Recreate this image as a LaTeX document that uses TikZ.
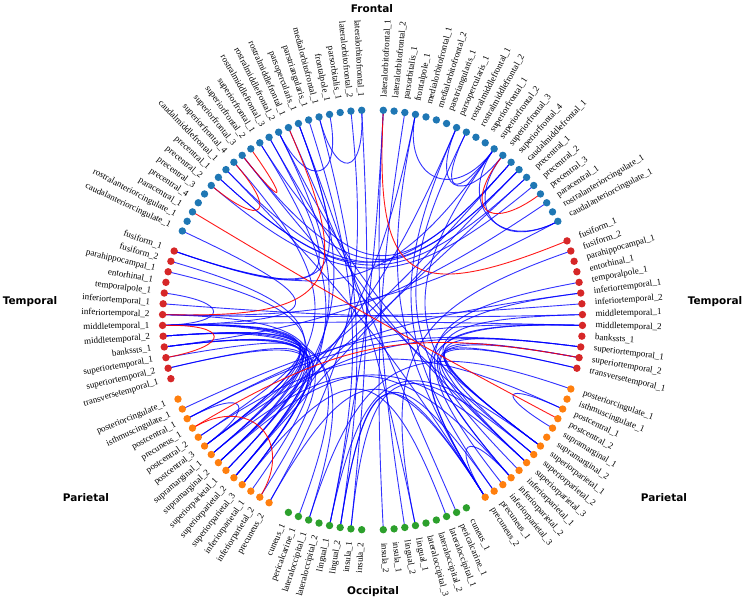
\documentclass[tikz,border=0pt]{standalone}
\usepackage{fontspec}
\setmainfont{Liberation Serif}
\newfontfamily\lobefont{DejaVu Sans}
\usetikzlibrary{calc,backgrounds}
\definecolor{cF}{HTML}{1F77B4}
\definecolor{cT}{HTML}{D62728}
\definecolor{cP}{HTML}{FF7F0E}
\definecolor{cO}{HTML}{2CA02C}
\definecolor{eb}{HTML}{0000FF}
\definecolor{er}{HTML}{FF0000}
\tikzset{
  dot/.style={circle, inner sep=0pt, minimum size=7.4pt},
  rlab/.style={anchor=west, inner sep=0pt, font=\fontsize{9}{9}\selectfont},
  llab/.style={anchor=east, inner sep=0pt, font=\fontsize{9}{9}\selectfont},
  lobe/.style={font=\lobefont\bfseries\fontsize{10.5}{12}\selectfont},
  eblue/.style={draw=eb, line width=0.9pt, opacity=0.8},
  ered/.style={draw=er, line width=0.9pt, opacity=0.9},
}
\newcommand\cnx[4]{\draw[#1] (#3.center) .. controls ($(C)!#2!(#3.center)$) and ($(C)!#2!(#4.center)$) .. (#4.center);}
\newcommand\ew[2]{\cnx{eblue}{0.68}{#1}{#2}}
\newcommand\ex[2]{\cnx{eblue}{0.18}{#1}{#2}}
\newcommand\rw[2]{\cnx{ered}{0.68}{#1}{#2}}
\newcommand\rx[2]{\cnx{ered}{0.18}{#1}{#2}}
\def\sstep{2.95082}
\newcommand\leftgrp[4]{%
  \foreach \lab [count=\i from #1] in {#4} {
    \pgfmathsetmacro\a{90+\sstep*(1+\i+#2)}
    \node[dot, fill=#3] (L\i) at ($(C)+(\a:210)$) {};
    \node[llab, rotate=\a-180] (tL\i) at ($(C)+(\a:223)$) {\lab};
  }}
\newcommand\rightgrp[4]{%
  \foreach \lab [count=\i from #1] in {#4} {
    \pgfmathsetmacro\a{90-\sstep*(1+\i+#2)}
    \node[dot, fill=#3] (R\i) at ($(C)+(\a:210)$) {};
    \node[rlab, rotate=\a] (tR\i) at ($(C)+(\a:223)$) {\lab};
  }}
\begin{document}
\begin{tikzpicture}[x=1pt,y=1pt]
\useasboundingbox (0,0) rectangle (744,599);
\coordinate (C) at (372.5,279);
% left hemisphere
\leftgrp{0}{0}{cF}{lateralorbitofrontal\_1, lateralorbitofrontal\_2, parsorbitalis\_1, frontalpole\_1, medialorbitofrontal\_1, parstriangularis\_1, parsopercularis\_1, rostralmiddlefrontal\_1, rostralmiddlefrontal\_2, rostralmiddlefrontal\_3, superiorfrontal\_1, superiorfrontal\_2, superiorfrontal\_3, superiorfrontal\_4, caudalmiddlefrontal\_1, precentral\_1, precentral\_2, precentral\_3, precentral\_4, paracentral\_1, rostralanteriorcingulate\_1, caudalanteriorcingulate\_1}
\leftgrp{22}{1}{cT}{fusiform\_1, fusiform\_2, parahippocampal\_1, entorhinal\_1, temporalpole\_1, inferiortemporal\_1, inferiortemporal\_2, middletemporal\_1, middletemporal\_2, bankssts\_1, superiortemporal\_1, superiortemporal\_2, transversetemporal\_1}
\leftgrp{35}{2}{cP}{posteriorcingulate\_1, isthmuscingulate\_1, postcentral\_1, precuneus\_1, postcentral\_2, postcentral\_3, supramarginal\_1, supramarginal\_2, superiorparietal\_1, superiorparietal\_2, superiorparietal\_3, inferiorparietal\_1, inferiorparietal\_2, precuneus\_2}
\leftgrp{49}{3}{cO}{cuneus\_1, pericalcarine\_1, lateraloccipital\_1, lateraloccipital\_2, lingual\_1, lingual\_2, insula\_1, insula\_2}
% right hemisphere
\rightgrp{0}{0}{cF}{lateralorbitofrontal\_1, lateralorbitofrontal\_2, parsorbitalis\_1, frontalpole\_1, medialorbitofrontal\_1, medialorbitofrontal\_2, parstriangularis\_1, parsopercularis\_1, rostralmiddlefrontal\_1, rostralmiddlefrontal\_2, superiorfrontal\_1, superiorfrontal\_2, superiorfrontal\_3, superiorfrontal\_4, caudalmiddlefrontal\_1, precentral\_1, precentral\_2, precentral\_3, paracentral\_1, rostralanteriorcingulate\_1, caudalanteriorcingulate\_1}
\rightgrp{21}{1}{cT}{fusiform\_1, fusiform\_2, parahippocampal\_1, entorhinal\_1, temporalpole\_1, inferiortemporal\_1, inferiortemporal\_2, middletemporal\_1, middletemporal\_2, bankssts\_1, superiortemporal\_1, superiortemporal\_2, transversetemporal\_1}
\rightgrp{34}{2}{cP}{posteriorcingulate\_1, isthmuscingulate\_1, postcentral\_1, postcentral\_2, supramarginal\_1, supramarginal\_2, superiorparietal\_1, superiorparietal\_2, superiorparietal\_3, inferiorparietal\_1, inferiorparietal\_2, inferiorparietal\_3, precuneus\_1, precuneus\_2}
\rightgrp{48}{3}{cO}{cuneus\_1, pericalcarine\_1, lateraloccipital\_1, lateraloccipital\_2, lateraloccipital\_3, lingual\_1, lingual\_2, insula\_1, insula\_2}
% lobe titles
\node[lobe] (tF) at (372,590) {Frontal};
\node[lobe] (tTL) at (30,297) {Temporal};
\node[lobe] (tTR) at (715,297) {Temporal};
\node[lobe] (tPL) at (86,101) {Parietal};
\node[lobe] (tPR) at (664,101) {Parietal};
\node[lobe] (tO) at (373,7) {Occipital};
\begin{pgfonlayer}{background}
% within-lobe loops
\ew{L0}{L4} \ew{L3}{L8} \ew{L26}{L29}
\ew{R3}{R11} \ew{R7}{R12} \ew{R8}{R11} \ew{R11}{R20} \ew{R12}{R20}
\ew{R36}{R38} \ew{R44}{R47} \ew{L37}{L40}
% left hemisphere, cross-lobe
\ex{L22}{L6} \ex{L22}{L9} \ex{L21}{L29}
\ex{L0}{L55} \ex{L4}{L54} \ex{L1}{L48} \ex{L5}{L53} \ex{L6}{L43} \ex{L8}{L44}
\ex{L10}{L45} \ex{L13}{L41}
\ex{L29}{L42} \ex{L29}{L44} \ex{L29}{L40} \ex{L29}{L50}
\ex{L30}{L40} \ex{L30}{L41} \ex{L30}{L45} \ex{L30}{L51}
\ex{L31}{L43} \ex{L31}{L47} \ex{L31}{L45} \ex{L32}{L39}
\ex{L33}{L41} \ex{L33}{L44} \ex{L23}{L42} \ex{L24}{L43} \ex{L28}{L46}
% right hemisphere, cross-lobe
\ex{R0}{R54} \ex{R2}{R56} \ex{R3}{R47} \ex{R7}{R46} \ex{R8}{R44} \ex{R11}{R42}
\ex{R33}{R42} \ex{R32}{R43} \ex{R29}{R44} \ex{R31}{R40} \ex{R32}{R40} \ex{R33}{R40}
\ex{R28}{R41} \ex{R26}{R47} \ex{R25}{R45} \ex{R22}{R53} \ex{R29}{R47}
% across hemispheres
\ex{L14}{R14} \ex{L15}{R15} \ex{L15}{R13} \ex{L16}{R16} \ex{L12}{R14} \ex{L10}{R13}
\ex{L8}{R40} \ex{L9}{R42} \ex{L12}{R41} \ex{L14}{R47} \ex{L7}{R49} \ex{L6}{R53}
\ex{R14}{L44} \ex{R15}{L42} \ex{R13}{L40} \ex{R3}{L44} \ex{R7}{L42} \ex{R0}{L53}
\ex{L29}{R29} \ex{L28}{R27} \ex{L27}{R28} \ex{L36}{R29}
\ex{L37}{R26} \ex{L37}{R31} \ex{L40}{R31}
\ex{R20}{L28} \ex{R18}{L31} \ex{R11}{L22}
\ex{L54}{R47} \ex{L54}{R46} \ex{L55}{R41} \ex{L51}{R34} \ex{L53}{R40}
\ex{L39}{R36} \ex{L41}{R44} \ex{L42}{R42} \ex{L45}{R50} \ex{L48}{R47}
% red
\rx{L7}{L28} \rw{L11}{L12} \rw{L13}{L16} \rx{L19}{R37} \rw{L29}{L32}
\rw{L38}{L47} \rx{L38}{R32} \rx{R0}{R21} \rw{R12}{R17}
\end{pgfonlayer}
\end{tikzpicture}
\end{document}
